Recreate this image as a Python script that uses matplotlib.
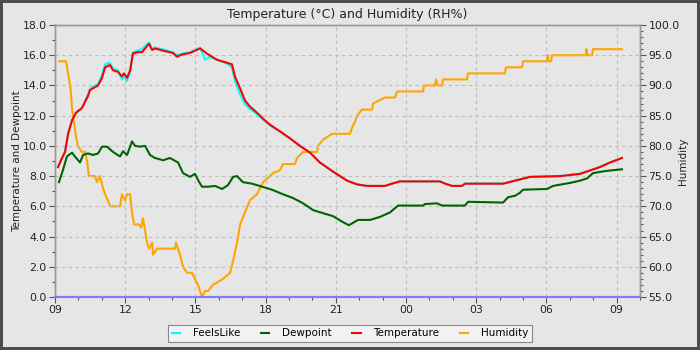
import matplotlib
matplotlib.use('Agg')
import matplotlib.pyplot as plt
from matplotlib.ticker import MultipleLocator, FormatStrFormatter

# hours after 09:00
temp_hours = [0.13, 0.30, 0.43, 0.56, 0.73, 0.90, 1.15, 1.41, 1.50, 1.84, 2.01, 2.14, 2.35, 2.48,
              2.69, 2.86, 2.95, 3.08, 3.21, 3.33, 3.50, 3.72, 3.93, 4.02, 4.15, 4.27, 4.62, 5.04,
              5.21, 5.43, 5.77, 5.98, 6.20, 6.50, 6.92, 7.35, 7.56, 7.69, 7.91, 8.12, 8.33, 8.63,
              8.89, 9.19, 9.62, 10.04, 10.47, 10.90, 11.32, 11.88, 12.48, 12.91, 13.33, 14.10,
              14.40, 14.74, 16.45, 16.67, 16.97, 17.39, 17.52, 19.15, 19.66, 20.30, 21.58, 22.44,
              23.29, 23.72, 24.23]
temperature = [8.6, 9.2, 9.6, 10.8, 11.7, 12.2, 12.5, 13.3, 13.7, 14.0, 14.5, 15.2, 15.35, 15.0,
               14.9, 14.6, 14.8, 14.5, 15.0, 16.1, 16.2, 16.2, 16.6, 16.75, 16.35, 16.45, 16.3, 16.15,
               15.9, 16.05, 16.15, 16.3, 16.45, 16.1, 15.7, 15.5, 15.4, 14.6, 13.8, 13.0, 12.6, 12.2,
               11.8, 11.4, 10.95, 10.5, 10.0, 9.55, 8.9, 8.3, 7.7, 7.45, 7.35, 7.35,
               7.5, 7.65, 7.65, 7.5, 7.35, 7.35, 7.5, 7.5, 7.7, 7.95, 8.0, 8.15,
               8.6, 8.9, 9.2]

feels_hours = [0.13, 0.30, 0.43, 0.56, 0.73, 0.90, 1.15, 1.41, 1.50, 1.84, 2.01, 2.14, 2.35, 2.48,
               2.69, 2.86, 2.95, 3.08, 3.21, 3.33, 3.50, 3.72, 3.93, 4.02, 4.15, 4.27, 4.62, 5.04,
               5.21, 5.43, 5.77, 5.98, 6.20, 6.41, 6.62, 6.92, 7.35, 7.56, 7.69, 7.91, 8.12, 8.33,
               8.63, 8.89, 9.19, 9.62, 10.04, 10.47, 10.90, 11.32, 11.88, 12.48, 12.91, 13.33,
               14.10, 14.40, 14.74, 16.45, 16.67, 16.97, 17.39, 17.52, 19.15, 19.66, 20.30, 21.58,
               22.44, 23.29, 23.72, 24.23]
feels_like = [8.6, 9.2, 9.6, 10.8, 11.7, 12.2, 12.5, 13.4, 13.8, 14.1, 14.7, 15.4, 15.5, 15.1,
              15.0, 14.4, 14.6, 14.3, 14.9, 16.2, 16.3, 16.4, 16.75, 16.85, 16.4, 16.5, 16.4, 16.2,
              16.0, 16.1, 16.2, 16.35, 16.5, 15.7, 15.9, 15.7, 15.45, 15.2, 14.3, 13.4, 12.75, 12.45,
              12.1, 11.75, 11.35, 10.95, 10.5, 10.0, 9.55, 8.9, 8.3, 7.7, 7.45, 7.35,
              7.35, 7.5, 7.65, 7.65, 7.5, 7.35, 7.35, 7.5, 7.5, 7.7, 7.95, 8.0,
              8.15, 8.6, 8.9, 9.2]

dew_hours = [0.17, 0.34, 0.51, 0.73, 0.85, 1.07, 1.20, 1.41, 1.62, 1.84, 2.01, 2.22, 2.48, 2.78,
             2.91, 3.08, 3.29, 3.42, 3.63, 3.85, 4.06, 4.27, 4.62, 4.91, 5.26, 5.47, 5.77, 5.98,
             6.11, 6.28, 6.54, 6.84, 7.14, 7.39, 7.61, 7.78, 8.03, 8.42, 8.85, 9.27, 9.74, 10.17,
             10.60, 11.03, 11.45, 11.88, 12.31, 12.56, 12.95, 13.46, 13.89, 14.32, 14.66, 15.73,
             15.81, 16.32, 16.54, 17.52, 17.65, 19.15, 19.36, 19.66, 19.87, 20.00, 21.03, 21.28,
             22.01, 22.44, 22.74, 22.99, 23.59, 24.23]
dewpoint = [7.6, 8.4, 9.3, 9.55, 9.3, 8.9, 9.4, 9.5, 9.4, 9.5, 9.95, 9.95, 9.6, 9.3,
            9.65, 9.4, 10.3, 10.0, 9.95, 10.0, 9.4, 9.2, 9.05, 9.2, 8.9, 8.2, 7.95, 8.15,
            7.75, 7.3, 7.3, 7.35, 7.15, 7.4, 7.95, 8.0, 7.6, 7.5, 7.3, 7.1, 6.8, 6.55,
            6.2, 5.75, 5.55, 5.35, 4.95, 4.75, 5.1, 5.1, 5.3, 5.6, 6.05, 6.05,
            6.15, 6.2, 6.05, 6.05, 6.3, 6.25, 6.6, 6.7, 6.9, 7.1, 7.15, 7.35,
            7.55, 7.7, 7.85, 8.2, 8.35, 8.45]

hum_hours = [0.17, 0.47, 0.56, 0.68, 0.73, 0.81, 0.90, 0.98, 1.15, 1.28, 1.37, 1.45, 1.71, 1.79,
             1.92, 2.05, 2.14, 2.26, 2.35, 2.78, 2.86, 2.99, 3.08, 3.21, 3.29, 3.38, 3.59, 3.68,
             3.76, 3.85, 3.93, 4.02, 4.15, 4.19, 4.36, 4.62, 4.91, 5.13, 5.17, 5.34, 5.47, 5.64,
             5.85, 5.98, 6.11, 6.28, 6.41, 6.54, 6.75, 7.18, 7.48, 7.61, 7.78, 7.91, 8.12, 8.33,
             8.63, 8.89, 9.19, 9.32, 9.62, 9.74, 10.26, 10.34, 10.60, 11.20, 11.24, 11.45, 11.84,
             11.88, 12.61, 12.69, 12.82, 12.91, 13.12, 13.55, 13.59, 14.10, 14.53, 14.62, 15.73,
             15.77, 16.24, 16.28, 16.36, 16.54, 16.58, 17.61, 17.65, 19.23, 19.27, 19.96, 20.00,
             21.03, 21.05, 21.09, 21.20, 21.24, 22.69, 22.71, 22.76, 22.95, 22.99, 24.23]
humidity = [94, 94, 92, 89, 86, 84, 81.5, 80, 79, 79, 77.5, 75, 75, 74,
            75, 73, 72, 71, 70, 70, 72, 71, 72, 72, 69, 67, 67, 66.5,
            68, 66, 64, 63, 64, 62, 63, 63, 63, 63, 64, 62, 60, 59,
            59, 58, 57, 55, 56, 56, 57, 58, 59, 61, 64, 67, 69, 71,
            72, 74, 75, 75.5, 76, 77, 77, 78, 79, 79, 80, 81, 82,
            82, 82, 83, 84, 85, 86, 86, 87, 88, 88, 89, 89,
            90, 90, 91, 90, 90, 91, 91, 92, 92, 93, 93, 94,
            94, 95, 94, 94, 95, 95, 96, 95, 95, 96, 96]

hour_ticks = [0, 3, 6, 9, 12, 15, 18, 21, 24]
hour_labels = ['09', '12', '15', '18', '21', '00', '03', '06', '09']

plt.rcParams['font.family'] = 'DejaVu Sans'

fig = plt.figure(figsize=(7, 3.5), dpi=100, facecolor='#e6e6e6',
                 edgecolor='#4d4d4d', linewidth=4)
ax = fig.add_axes([55 / 700, 53 / 350, 585 / 700, 272 / 350])
ax2 = ax.twinx()

# humidity goes behind the temperature lines
ax.set_zorder(ax2.get_zorder() + 1)
ax.patch.set_visible(False)
ax2.patch.set_facecolor('#e6e6e6')

l_hum, = ax2.plot(hum_hours, humidity, color='#ffa500', lw=1.5, label='Humidity')
l_feel, = ax.plot(feels_hours, feels_like, color='#00ffff', lw=1.5, label='FeelsLike')
l_dew, = ax.plot(dew_hours, dewpoint, color='#006400', lw=1.5, label='Dewpoint')
l_temp, = ax.plot(temp_hours, temperature, color='#ff0000', lw=1.5, label='Temperature')

ax.set_xlim(0, 25)
ax.set_ylim(0, 18)
ax2.set_ylim(55, 100)

ax.set_xticks(hour_ticks)
ax.set_xticklabels(hour_labels)
ax.xaxis.set_minor_locator(MultipleLocator(1))
ax.yaxis.set_major_locator(MultipleLocator(2))
ax.yaxis.set_minor_locator(MultipleLocator(1))
ax.yaxis.set_major_formatter(FormatStrFormatter('%.1f'))
ax2.yaxis.set_major_locator(MultipleLocator(5))
ax2.yaxis.set_minor_locator(MultipleLocator(1))
ax2.yaxis.set_major_formatter(FormatStrFormatter('%.1f'))

for a in (ax, ax2):
    a.tick_params(which='major', length=4, width=0.8, color='#555555',
                  labelsize=7.8, labelcolor='#222222', pad=2)
    a.tick_params(which='minor', length=2, width=0.8, color='#555555')
    for s in a.spines.values():
        s.set_color('#999999')
        s.set_linewidth(1)
    a.spines['bottom'].set_color('#8080f0')
    a.spines['bottom'].set_linewidth(1.5)

ax.grid(True, which='major', color='#bdbdbd', linestyle=(0, (3, 3)), linewidth=0.8)
ax.set_axisbelow(True)

ax.set_title('Temperature (°C) and Humidity (RH%)', fontsize=9, color='#222222', pad=5)
ax.set_ylabel('Temperature and Dewpoint', fontsize=7.5, color='#222222', labelpad=0)
ax2.set_ylabel('Humidity', fontsize=7.5, color='#222222', labelpad=-1)

leg = fig.legend(handles=[l_feel, l_dew, l_temp, l_hum], loc='lower center',
                 bbox_to_anchor=(0.5, 3 / 350), ncol=4, fontsize=7.5,
                 handlelength=0.8, handletextpad=1.2, columnspacing=2.0,
                 fancybox=False, framealpha=1, facecolor='#f2f2f2',
                 edgecolor='#888888', borderpad=0.35)
leg.get_frame().set_linewidth(0.8)

fig.savefig('out.png', dpi=100, facecolor=fig.get_facecolor(), edgecolor=fig.get_edgecolor())
